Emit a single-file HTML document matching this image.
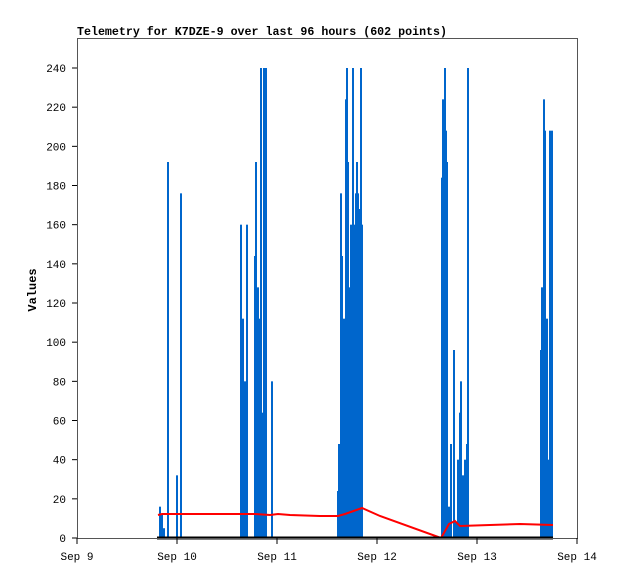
<!DOCTYPE html>
<html><head><style>body{margin:0;background:#fff}svg{display:block}</style></head><body>
<svg width="618" height="579" xmlns="http://www.w3.org/2000/svg" font-family="Liberation Mono, monospace">
<rect width="618" height="579" fill="#fff"/>
<text x="77" y="35" font-size="12" font-weight="bold" textLength="370" lengthAdjust="spacingAndGlyphs">Telemetry for K7DZE-9 over last 96 hours (602 points)</text>
<text x="36" y="290" font-size="12" font-weight="bold" transform="rotate(-90 36 290)" text-anchor="middle">Values</text>
<g id="bars" fill="#0066cc"></g>
<polyline fill="none" stroke="#ff0000" stroke-width="2" points="158,515 162,514 170,514 177,514 200,514 255,514 270,515 278,514 290,515 320,516 338,516 345,514 362,508 380,516 441,538 449,524 455,521 460,526 490,525 520,524 553,525"/>
<line x1="157" y1="538" x2="553" y2="538" stroke="#000" stroke-width="3"/>
<rect x="77.5" y="38.5" width="500" height="500" fill="none" stroke="#555" stroke-width="1"/>
<g id="ax" font-size="11"></g>
</svg>
<script>
var b=[[160,16],[162,12],[164,5],[168,192],[177,32],[181,176],
[241,160],[243,112],[244,80],[246,80],[247,160],[255,144],[256,192],[258,128],[259,112],[261,240],[263,64],[264,240],[266,240],[272,80],
[338,24],[339,48],[341,176],[342,144],[343,72],[344,112],[346,224],[347,240],[348,192],[349,128],[350,72],[351,160],[353,240],[354,160],[355,128],[356,176],[357,192],[358,176],[359,168],[361,240],[362,160],
[442,184],[443,224],[445,240],[446,208],[447,192],[449,16],[451,48],[454,96],[456,8],[458,40],[460,64],[461,80],[463,32],[465,40],[467,48],[468,240],
[541,96],[542,128],[544,224],[545,208],[547,112],[548,40],[550,208],[552,208]];
var ns="http://www.w3.org/2000/svg",g=document.getElementById('bars');
b.forEach(function(d){var r=document.createElementNS(ns,'rect');var h=d[1]*1.9583;r.setAttribute('x',d[0]-1);r.setAttribute('y',538-h);r.setAttribute('width',2);r.setAttribute('height',h);g.appendChild(r);});
var a=document.getElementById('ax'),s='';
for(var v=0;v<=240;v+=20){var y=538-v*1.9583;s+='<line x1="72" x2="77" y1="'+y+'" y2="'+y+'" stroke="#000"/><text x="66" y="'+(y+4)+'" text-anchor="end">'+v+'</text>';}
var L=['Sep 9','Sep 10','Sep 11','Sep 12','Sep 13','Sep 14'];
for(var i=0;i<6;i++){var x=77+i*100;s+='<line x1="'+x+'" x2="'+x+'" y1="538" y2="544" stroke="#000"/><text x="'+x+'" y="560" text-anchor="middle">'+L[i]+'</text>';}
a.innerHTML=s;
</script>
</body></html>
